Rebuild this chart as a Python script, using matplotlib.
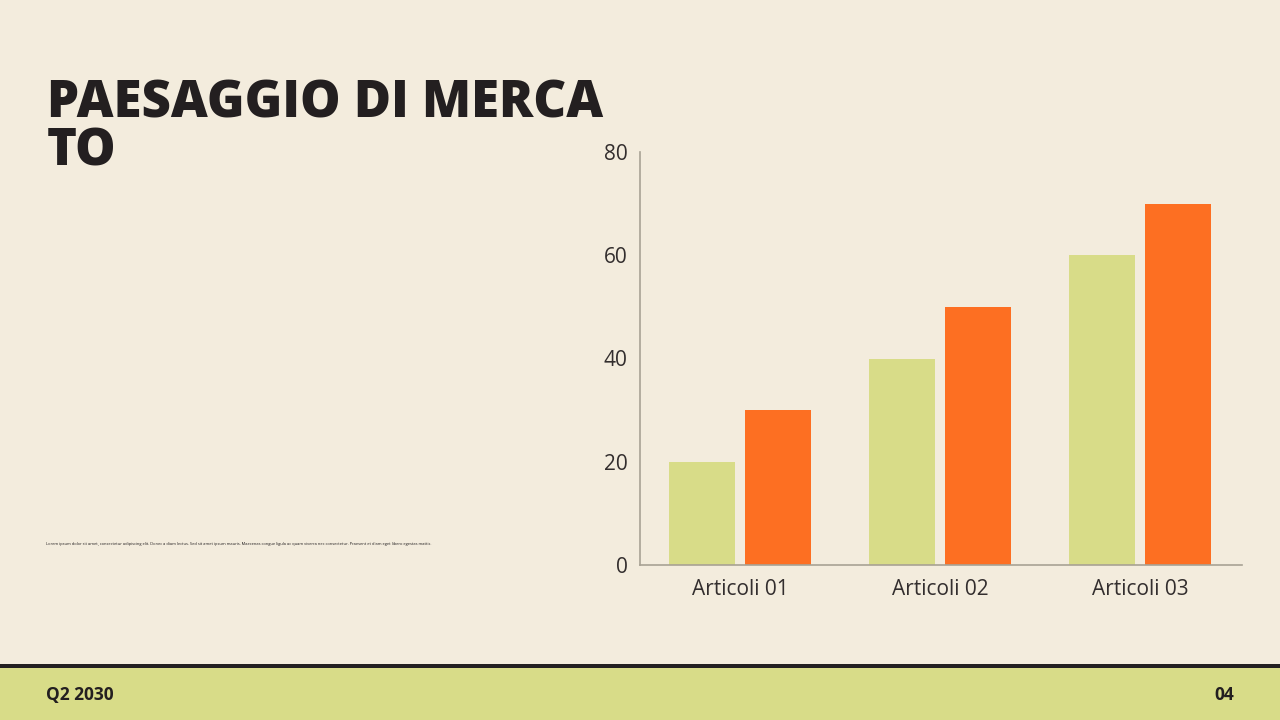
import matplotlib.pyplot as plt
import numpy as np

# dati del grafico
categorie = ["Articoli 01", "Articoli 02", "Articoli 03"]
serie_a = [20, 40, 60]
serie_b = [30, 50, 70]
y_ticks = [0, 20, 40, 60, 80]

bg = "#f3ecdd"
verde = "#d8dc88"
arancio = "#fd6f22"
scuro = "#231f20"

plt.rcParams['font.family'] = ['Open Sans', 'DejaVu Sans']

fig = plt.figure(figsize=(12.8, 7.2), dpi=100, facecolor=bg)

# titolo (la baseline indicata è quella dell'ultima riga)
fig.text(47 / 1280, 1 - 165 / 720, "PAESAGGIO DI MERCA\nTO", fontsize=36.6,
         fontweight='heavy', color=scuro, ha='left', va='baseline',
         linespacing=0.91)

# testo piccolo
fig.text(46 / 1280, 1 - 545 / 720,
         "Lorem ipsum dolor sit amet, consectetur adipiscing elit. Donec a diam lectus. "
         "Sed sit amet ipsum mauris. Maecenas congue ligula ac quam viverra nec consectetur. "
         "Praesent et diam eget libero egestas mattis.",
         fontsize=2.9, color=scuro, ha='left', va='baseline')

# grafico a barre
ax = fig.add_axes([640 / 1280, 1 - 565 / 720, 602 / 1280, 413 / 720])
ax.set_facecolor(bg)
x = np.arange(len(categorie))
w = 0.33
ax.bar(x - 0.19, serie_a, w, color=verde)
ax.bar(x + 0.19, serie_b, w, color=arancio)
ax.set_xlim(-0.5, 2.51)
ax.set_ylim(0, 80)
ax.set_yticks(y_ticks)
ax.set_xticks(x)
ax.set_xticklabels(categorie)
for s in ['top', 'right']:
    ax.spines[s].set_visible(False)
for s in ['left', 'bottom']:
    ax.spines[s].set_color('#a8a294')
    ax.spines[s].set_linewidth(1.2)
ax.tick_params(length=0, labelsize=15, colors='#332e2e', pad=9)
ax.tick_params(axis='x', pad=10)

# piè di pagina
fig.patches.append(plt.Rectangle((0, 0), 1, 52 / 720, transform=fig.transFigure,
                                 facecolor=verde, edgecolor='none'))
fig.patches.append(plt.Rectangle((0, 52 / 720), 1, 4 / 720, transform=fig.transFigure,
                                 facecolor=scuro, edgecolor='none'))
fig.text(46 / 1280, 1 - 700 / 720, "Q2 2030", fontsize=12.5, fontweight='bold',
         color=scuro, ha='left', va='baseline')
fig.text(1234 / 1280, 1 - 700 / 720, "04", fontsize=12.5, fontweight='bold',
         color=scuro, ha='right', va='baseline')

fig.savefig("out.png", dpi=100, facecolor=bg)
